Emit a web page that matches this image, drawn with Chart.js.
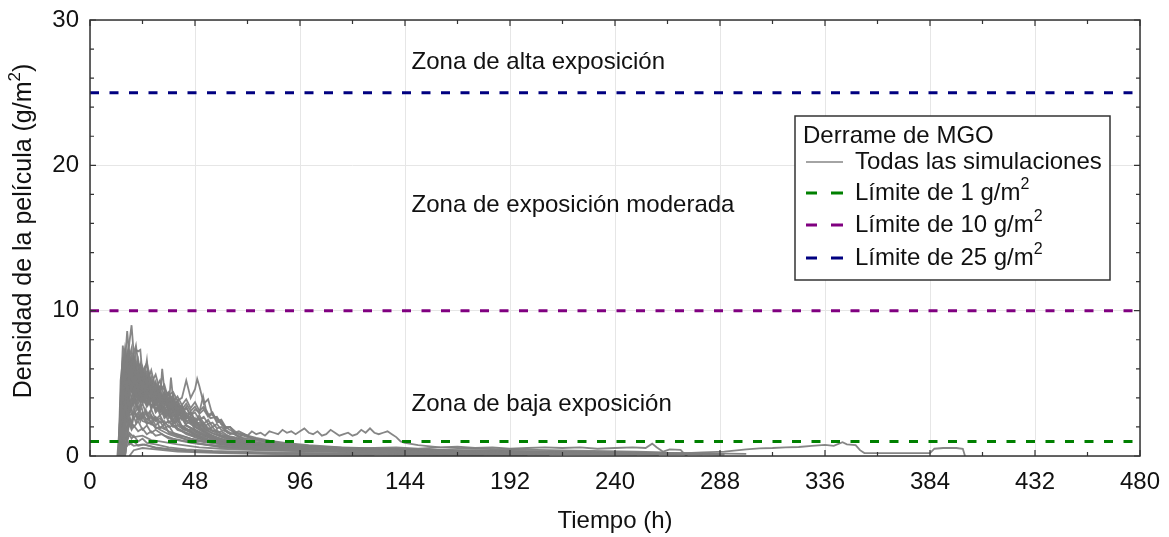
<!DOCTYPE html>
<html>
<head>
<meta charset="utf-8">
<script src="https://cdn.jsdelivr.net/npm/chart.js@4.4.1/dist/chart.umd.min.js"></script>
<style>
html,body{margin:0;padding:0;background:#fff;}
#wrap{width:1169px;height:537px;}
</style>
</head>
<body>
<div id="wrap"><canvas id="c" width="1169" height="537"></canvas></div>
<script>
// ---- Axis ticks ----
const xTicks = [0, 48, 96, 144, 192, 240, 288, 336, 384, 432, 480];
const yTicks = [0, 10, 20, 30];

// ---- Exposure limits (g/m2) ----
const limitValues = [1, 10, 25];
const limitLabels = ['Límite de 1 g/m', 'Límite de 10 g/m', 'Límite de 25 g/m'];
const zoneLabels = ['Zona de alta exposición', 'Zona de exposición moderada', 'Zona de baja exposición'];

// ---- Simulations: [hour, film density g/m2] ----
const sim01 = [[13,0],[14,2.5],[15,5.5],[16,7.0],[17,6.2],[18,7.8],[19,9.0],[20,7.0],[21,7.6],[22,6.4],[24,5.8],[26,6.4],[28,5.0],[30,5.6],[32,4.5],[34,4.9],[36,3.8],[38,4.2],[40,3.2],[44,2.8],[48,2.2],[52,1.8],[56,1.4],[60,1.1],[66,0.9],[72,0.7],[84,0.5],[96,0.4],[120,0.3],[144,0.25],[168,0.2],[192,0.15]];
const sim02 = [[13.5,0],[15,4.0],[16,6.5],[17,8.6],[18,6.8],[19,7.4],[20,6.0],[21,7.3],[22,7.2],[23,7.3],[24,5.6],[26,5.0],[28,5.9],[30,4.6],[32,5.2],[34,4.0],[36,4.4],[38,3.4],[40,3.8],[42,3.0],[46,2.6],[50,2.0],[54,1.5],[58,1.2],[64,0.9],[72,0.7],[84,0.55],[96,0.45],[120,0.35],[144,0.3],[168,0.25],[200,0.2],[240,0.15]];
const sim03 = [[14,0],[15,3.0],[16,5.5],[17,6.8],[18,5.2],[19,6.4],[20,5.0],[22,5.8],[24,4.6],[26,6.6],[27,5.0],[28,4.2],[30,5.1],[32,3.8],[33,6.0],[34,4.5],[36,3.4],[37,5.4],[38,3.9],[40,2.8],[42,3.2],[44,2.4],[48,2.0],[52,1.6],[56,1.2],[60,0.9],[68,0.7],[76,0.55],[88,0.45],[100,0.38],[120,0.3],[150,0.22],[180,0.18],[220,0.14],[260,0.1]];
const sim04 = [[14.5,0],[16,3.5],[17,5.0],[18,4.2],[20,5.5],[22,4.6],[24,5.2],[26,4.4],[28,5.0],[30,4.2],[32,4.8],[34,4.6],[36,4.2],[38,4.4],[40,3.8],[42,4.0],[44,5.2],[45,4.6],[46,4.0],[48,4.6],[49,5.3],[50,4.8],[51,4.2],[52,3.6],[54,3.9],[56,2.8],[58,2.6],[60,2.2],[62,1.8],[64,1.6],[66,1.5],[68,1.3],[72,1.1],[76,0.9],[84,0.7],[96,0.5],[120,0.4],[144,0.32],[168,0.28],[192,0.22],[216,0.18],[240,0.14]];
const sim05 = [[15,0],[16,2.2],[17,4.0],[18,3.5],[20,4.6],[22,3.8],[24,4.8],[26,4.0],[28,4.6],[30,3.6],[32,4.2],[34,3.4],[36,3.8],[38,3.2],[40,3.6],[42,3.0],[44,3.4],[46,2.8],[48,3.2],[50,3.0],[51.7,4.1],[53,3.2],[55,2.6],[58,2.7],[60,2.2],[63,1.9],[66,1.6],[70,1.4],[74,1.2],[80,1.0],[88,0.8],[96,0.6],[110,0.5],[130,0.42],[150,0.36],[180,0.3],[210,0.25],[240,0.2],[270,0.15],[290,0.1]];
const sim06 = [[13,0],[14,1.5],[15,3.8],[16,5.0],[17,4.2],[18,5.6],[19,4.6],[20,5.2],[21,4.2],[22,4.8],[24,3.8],[26,4.4],[28,3.4],[30,3.9],[32,3.0],[34,3.4],[36,2.6],[38,2.9],[40,2.2],[44,1.9],[48,1.5],[52,1.3],[56,1.0],[62,0.8],[70,0.6],[80,0.45],[96,0.35],[120,0.28],[150,0.2],[190,0.15]];
const sim07 = [[13.5,0],[15,2.0],[16,4.6],[17,3.8],[18,6.0],[19,5.0],[20,6.5],[21,5.2],[22,5.8],[23,4.6],[24,5.3],[26,4.0],[28,4.7],[30,3.6],[32,4.0],[34,3.0],[36,3.3],[38,2.5],[40,2.8],[42,2.0],[46,1.7],[50,1.4],[54,1.1],[60,0.85],[66,0.7],[76,0.55],[90,0.42],[110,0.35],[140,0.28],[170,0.22],[210,0.16]];
const sim08 = [[14,0],[15,1.6],[16,3.0],[17,2.4],[18,3.6],[20,2.8],[22,3.4],[24,2.6],[26,3.0],[28,2.2],[30,2.6],[32,1.9],[34,2.2],[36,1.6],[40,1.4],[44,1.1],[48,0.9],[54,0.75],[60,0.6],[70,0.5],[84,0.4],[100,0.32],[130,0.26],[160,0.2],[200,0.15],[250,0.1]];
const sim09 = [[12.5,0],[14,3.0],[15,6.0],[16,4.8],[17,7.0],[18,5.6],[19,6.2],[20,4.8],[21,5.4],[22,4.2],[24,4.9],[26,3.6],[28,4.3],[30,3.2],[32,3.6],[34,2.8],[36,3.1],[38,2.4],[40,2.6],[42,1.9],[46,1.6],[50,1.3],[56,1.0],[62,0.8],[70,0.65],[82,0.5],[96,0.4],[120,0.32],[150,0.25],[180,0.2],[230,0.14]];
const sim10 = [[15,0],[16,1.8],[17,3.2],[18,4.4],[20,3.6],[22,4.8],[24,3.8],[26,5.0],[28,4.0],[30,4.6],[32,3.6],[34,4.2],[36,3.3],[38,3.8],[40,3.0],[42,3.4],[44,2.6],[46,3.0],[48,2.3],[50,2.6],[52,2.0],[54,2.2],[56,1.7],[58,1.8],[60,1.4],[64,1.3],[68,1.1],[74,0.95],[80,0.8],[90,0.65],[100,0.55],[120,0.45],[144,0.38],[168,0.3],[200,0.24],[240,0.18],[280,0.12]];
const sim11 = [[14,0],[15,2.5],[16,4.2],[17,3.6],[18,5.0],[20,4.0],[22,4.6],[24,3.6],[26,4.2],[28,3.4],[30,3.8],[32,3.0],[34,3.4],[36,2.8],[38,3.2],[40,2.6],[42,3.4],[44,2.6],[46,3.0],[48,2.4],[50,2.8],[52,2.2],[54,2.5],[56,2.0],[58,2.2],[60,1.8],[62,1.7],[64,1.5],[66,1.6],[68,1.3],[70,1.5],[72,1.4],[74,1.7],[76,1.5],[78,1.6],[80,1.4],[82,1.7],[84,1.6],[86,1.5],[88,1.8],[90,1.6],[92,1.7],[94,1.5],[96,1.7],[98,1.9],[100,1.6],[102,1.5],[104,1.7],[106,1.4],[108,1.5],[110,1.8],[112,1.6],[114,1.4],[116,1.5],[118,1.6],[120,1.4],[122,1.5],[124,1.8],[126,1.6],[128,1.9],[130,1.6],[132,1.5],[134,1.6],[136,1.7],[138,1.5],[140,1.3],[142,1.0],[144,0.9],[150,0.75],[160,0.6],[176,0.5],[192,0.45],[210,0.4],[230,0.35],[250,0.3],[262,0.25]];
const sim12 = [[15,0],[16,2.0],[18,3.2],[20,2.6],[22,3.0],[24,2.4],[28,2.2],[32,1.8],[36,1.5],[40,1.3],[46,1.1],[52,0.95],[60,0.85],[70,0.75],[80,0.7],[90,0.6],[100,0.55],[110,0.6],[120,0.5],[130,0.55],[140,0.6],[150,0.5],[160,0.6],[168,0.65],[176,0.55],[184,0.6],[192,0.5],[200,0.55],[208,0.6],[216,0.55],[224,0.6],[232,0.5],[240,0.55],[248,0.6],[254,0.55],[257,0.85],[259,0.6],[262,0.3],[265,0.45],[270,0.42],[272,0.1],[273,0]];
const sim13 = [[16,0],[17,1.2],[18,1.6],[20,1.3],[24,1.4],[28,1.1],[32,1.0],[40,0.8],[50,0.6],[60,0.5],[72,0.42],[84,0.38],[96,0.35],[120,0.3],[144,0.28],[168,0.25],[192,0.22],[216,0.2],[240,0.2],[260,0.18],[270,0.18],[280,0.25],[290,0.3],[300,0.45],[306,0.53],[312,0.55],[318,0.6],[324,0.62],[330,0.7],[336,0.76],[340,0.7],[344,0.95],[346,0.8],[350,0.75],[352,0.4],[354,0.2],[370,0.2],[384,0.2],[386,0.5],[390,0.55],[396,0.55],[399,0.5],[400,0]];
const sim14 = [[14,0],[15,0.8],[16,1.3],[17,1.0],[18,1.5],[19,1.2],[20,1.4],[22,1.0],[24,1.2],[26,0.9],[30,0.8],[36,0.6],[44,0.45],[56,0.35],[72,0.28],[96,0.22],[130,0.18],[170,0.12],[210,0.08]];
const sim15 = [[15,0],[16,0.5],[18,0.9],[20,0.7],[24,0.8],[30,0.6],[40,0.4],[50,0.3],[70,0.22],[100,0.15],[140,0.1],[180,0.05]];
const sim16 = [[18,0],[20,0.4],[24,0.55],[30,0.45],[40,0.3],[60,0.2],[90,0.12],[130,0.08]];
const sim17 = [[13,0],[14,4.0],[15,7.6],[16,6.0],[17,6.8],[18,5.4],[19,6.0],[20,4.6],[22,5.2],[24,4.0],[26,4.5],[28,3.4],[30,3.8],[32,2.8],[34,3.1],[36,2.3],[38,2.5],[40,1.9],[44,1.6],[48,1.3],[54,1.0],[60,0.8],[70,0.62],[84,0.5],[100,0.4],[130,0.3],[160,0.24],[200,0.18]];
const sim18 = [[14,0],[15,2.8],[16,4.0],[17,5.6],[18,4.6],[19,5.3],[20,4.1],[21,4.8],[22,3.9],[24,4.5],[26,3.5],[28,4.1],[30,3.1],[32,3.5],[34,2.6],[36,2.9],[38,2.2],[40,2.4],[44,1.8],[48,1.5],[52,1.2],[58,0.95],[66,0.75],[76,0.6],[90,0.48],[110,0.38],[140,0.3],[170,0.24],[200,0.2],[240,0.15]];
const sim19 = [[13,0],[14,2.0],[15,3.6],[16,3.0],[17,4.4],[18,3.6],[20,4.0],[22,3.2],[24,3.6],[26,2.8],[28,3.2],[30,2.5],[32,2.8],[34,2.2],[36,2.4],[40,1.9],[44,1.5],[50,1.2],[56,0.95],[64,0.75],[74,0.6],[88,0.48],[104,0.4],[130,0.32],[160,0.26],[200,0.2]];
const sim20 = [[14.5,0],[16,3.0],[17,4.8],[18,4.0],[19,5.8],[20,4.6],[21,5.2],[22,4.4],[23,6.2],[24,5.0],[25,4.4],[26,5.4],[27,4.3],[28,4.9],[30,3.9],[31,4.6],[32,3.6],[34,4.0],[36,3.2],[38,3.6],[40,2.7],[42,3.0],[44,2.2],[46,2.4],[48,1.8],[52,1.5],[56,1.2],[62,0.95],[70,0.75],[80,0.6],[96,0.48],[120,0.38],[150,0.3],[180,0.24],[220,0.18]];
const sim21 = [[14,0],[15,1.2],[16,2.2],[17,1.8],[18,2.6],[20,2.0],[22,2.4],[24,1.8],[26,2.1],[28,1.6],[30,1.8],[34,1.4],[38,1.2],[44,1.0],[50,0.85],[60,0.7],[72,0.55],[90,0.45],[110,0.38],[140,0.3],[180,0.24],[220,0.18],[260,0.12]];
const sim22 = [[15,0],[16,2.4],[17,3.6],[18,3.0],[20,3.8],[22,3.2],[24,4.0],[26,3.4],[28,3.9],[30,3.2],[32,3.6],[34,2.9],[36,3.3],[38,2.7],[40,3.1],[42,2.5],[44,2.9],[46,2.3],[48,2.6],[50,2.0],[52,2.3],[54,1.8],[56,2.0],[58,1.6],[60,1.7],[64,1.3],[68,1.2],[72,1.0],[80,0.85],[90,0.7],[100,0.6],[120,0.5],[144,0.42],[170,0.35],[200,0.3],[230,0.25],[260,0.2],[290,0.12]];
const sim23 = [[13.5,0],[15,4.4],[16,5.8],[17,5.0],[18,6.6],[19,5.4],[20,6.0],[21,4.8],[22,5.6],[24,4.4],[26,5.0],[28,3.9],[30,4.4],[32,3.4],[34,3.9],[36,3.0],[38,3.4],[40,2.5],[42,2.8],[44,2.1],[48,1.8],[52,1.4],[56,1.15],[62,0.9],[70,0.7],[80,0.56],[96,0.45],[120,0.36],[150,0.28],[180,0.22],[220,0.16],[260,0.12]];
const sim24 = [[16,0],[17,1.5],[18,2.8],[19,2.2],[20,3.2],[22,2.6],[24,3.0],[26,2.3],[28,2.7],[30,2.1],[32,2.4],[34,1.9],[36,2.1],[38,1.6],[42,1.4],[46,1.2],[52,1.0],[58,0.85],[66,0.7],[78,0.56],[92,0.46],[110,0.38],[130,0.32],[160,0.26],[190,0.2],[230,0.15]];
const sim25 = [[13,0],[14,3.5],[15,6.8],[16,5.6],[17,7.2],[18,6.0],[19,6.8],[20,5.8],[21,6.6],[22,5.4],[23,6.2],[24,5.2],[25,5.9],[26,4.9],[27,5.6],[28,4.6],[29,5.2],[30,4.3],[31,4.8],[32,4.0],[34,4.4],[36,3.6],[38,3.9],[40,3.1],[42,3.3],[44,2.6],[46,2.7],[48,2.1],[52,1.7],[56,1.35],[62,1.05],[70,0.8],[80,0.62],[96,0.48],[120,0.38],[150,0.3],[190,0.22],[230,0.16]];
const sim26 = [[14,0],[15,5.0],[16,6.2],[17,5.3],[18,6.9],[19,6.1],[20,6.9],[21,6.0],[22,6.6],[23,5.5],[24,6.1],[25,5.3],[26,5.8],[27,4.9],[28,5.4],[29,4.6],[30,5.0],[31,4.3],[32,4.7],[33,4.0],[34,4.3],[36,3.7],[38,4.0],[40,3.3],[42,3.5],[44,2.9],[46,3.0],[48,2.5],[50,2.5],[52,2.0],[56,1.7],[60,1.4],[66,1.15],[74,0.9],[84,0.72],[96,0.58],[120,0.45],[150,0.35],[190,0.27],[240,0.2],[280,0.13]];
const sim27 = [[13,0],[14,2.6],[15,4.8],[16,4.0],[17,5.2],[18,4.4],[19,5.0],[20,4.2],[21,4.7],[22,4.0],[23,4.5],[24,3.7],[25,4.2],[26,3.5],[27,3.9],[28,3.2],[29,3.6],[30,3.0],[32,3.3],[34,2.7],[36,2.9],[38,2.3],[40,2.5],[42,2.0],[44,2.1],[48,1.7],[52,1.4],[58,1.1],[66,0.85],[76,0.68],[90,0.54],[110,0.43],[140,0.34],[180,0.26],[220,0.2]];
const sim28 = [[14.5,0],[15.5,3.6],[16.5,5.8],[17.5,4.9],[18.5,6.3],[19.5,5.5],[20.5,6.1],[21.5,5.2],[22.5,5.7],[23.5,4.9],[24.5,5.4],[25.5,4.6],[26.5,5.1],[27.5,4.4],[28.5,4.8],[29.5,4.1],[30.5,4.5],[32,3.8],[33.5,4.2],[35,3.5],[36.5,3.8],[38,3.2],[39.5,3.5],[41,2.9],[42.5,3.1],[44,2.6],[46,2.7],[48,2.2],[50,2.3],[53,1.8],[57,1.5],[62,1.2],[70,0.95],[80,0.75],[92,0.6],[110,0.48],[135,0.38],[165,0.3],[200,0.24],[240,0.18]];
const sim29 = [[13.5,0],[14.5,2.0],[15.5,3.4],[16.5,2.9],[17.5,3.9],[18.5,3.3],[19.5,3.8],[20.5,3.2],[21.5,3.6],[22.5,3.0],[23.5,3.4],[24.5,2.8],[25.5,3.2],[26.5,2.6],[27.5,3.0],[28.5,2.5],[30,2.7],[32,2.3],[34,2.4],[36,2.0],[38,2.1],[40,1.8],[44,1.6],[48,1.4],[54,1.15],[60,0.95],[70,0.75],[82,0.6],[96,0.5],[120,0.4],[150,0.32],[190,0.25],[240,0.18]];
const sim30 = [[15,0],[16,3.2],[17,4.6],[18,5.4],[19,4.8],[20,5.6],[21,4.9],[22,5.3],[23,4.7],[24,5.6],[25,4.8],[26,5.2],[27,4.5],[28,4.9],[29,4.2],[30,4.6],[31,4.0],[32,4.4],[33,3.8],[34,4.2],[35,3.6],[36,4.0],[37,3.4],[38,3.8],[39,3.2],[40,3.5],[42,3.0],[44,3.3],[46,2.8],[48,3.0],[50,2.5],[52,2.7],[54,2.2],[56,2.3],[58,1.9],[60,2.0],[63,1.6],[66,1.5],[70,1.25],[76,1.05],[84,0.85],[96,0.68],[112,0.55],[135,0.45],[165,0.36],[200,0.28],[240,0.22],[280,0.15]];
const sim31 = [[13,0],[14,1.8],[15,3.0],[16,2.5],[17,3.3],[18,2.8],[20,3.0],[22,2.5],[24,2.7],[26,2.2],[28,2.4],[30,1.9],[32,2.0],[36,1.7],[40,1.45],[46,1.2],[52,1.0],[60,0.82],[70,0.66],[84,0.52],[100,0.42],[125,0.34],[160,0.26],[200,0.2]];
const sim32 = [[14,0],[15,6.2],[16,7.4],[17,6.4],[18,7.1],[19,6.2],[20,6.8],[21,5.8],[22,6.3],[23,5.4],[24,5.8],[25,5.0],[26,5.4],[27,4.6],[28,5.0],[29,4.3],[30,4.6],[31,3.9],[32,4.2],[34,3.6],[36,3.8],[38,3.1],[40,3.3],[42,2.7],[44,2.8],[46,2.3],[48,2.4],[52,1.9],[56,1.55],[62,1.25],[70,0.98],[80,0.78],[94,0.62],[112,0.5],[136,0.4],[166,0.32],[200,0.25],[250,0.18]];
const sim33 = [[15,0],[16,2.8],[17,4.2],[18,3.6],[20,4.5],[22,3.9],[24,4.6],[26,4.0],[28,4.5],[30,3.9],[32,4.4],[34,3.8],[36,4.3],[38,3.7],[40,4.1],[42,3.5],[44,3.9],[46,3.3],[48,3.7],[50,3.1],[52,3.4],[54,2.8],[56,3.0],[58,2.4],[60,2.5],[62,2.0],[64,2.0],[67,1.6],[70,1.5],[74,1.25],[80,1.05],[88,0.88],[98,0.72],[112,0.6],[130,0.5],[155,0.42],[185,0.34],[220,0.27],[260,0.2]];
const sim34 = [[16,0],[17,2.2],[18,3.8],[19,3.2],[20,4.2],[21,3.6],[22,4.3],[23,3.7],[24,4.4],[25,3.8],[26,4.2],[27,3.6],[28,4.0],[30,3.5],[32,3.8],[34,3.2],[36,3.5],[38,3.0],[40,3.2],[42,2.7],[44,2.9],[46,2.4],[48,2.5],[50,2.1],[52,2.2],[55,1.8],[58,1.7],[62,1.4],[66,1.3],[70,1.1],[78,0.9],[88,0.74],[100,0.6],[120,0.48],[145,0.4],[175,0.32],[210,0.25],[250,0.19]];
const sim35 = [[14,0],[15,1.4],[16,2.0],[17,1.7],[18,2.2],[19,1.8],[20,2.1],[22,1.7],[24,1.9],[26,1.5],[28,1.7],[30,1.4],[33,1.5],[36,1.2],[40,1.1],[46,0.9],[54,0.75],[64,0.6],[76,0.5],[92,0.4],[112,0.33],[140,0.27],[175,0.21],[215,0.16],[260,0.11]];
const sim36 = [[13,0],[14,5.2],[15,6.6],[16,5.9],[17,6.5],[18,5.6],[19,6.3],[20,5.4],[21,5.9],[22,5.0],[23,5.5],[24,4.7],[25,5.1],[26,4.4],[27,4.8],[28,4.1],[29,4.4],[30,3.8],[31,4.1],[32,3.5],[34,3.8],[36,3.2],[38,3.4],[40,2.8],[42,3.0],[44,2.4],[46,2.5],[48,2.0],[52,1.65],[56,1.4],[62,1.1],[70,0.88],[80,0.7],[95,0.55],[115,0.44],[140,0.36],[170,0.29],[210,0.22]];
const sim37 = [[15.5,0],[16.5,2.6],[17.5,3.8],[18.5,3.3],[20,4.1],[22,3.6],[24,4.2],[26,3.7],[28,4.2],[30,3.6],[32,4.0],[34,3.5],[36,3.9],[38,3.4],[40,3.8],[42,3.2],[44,3.6],[46,3.1],[48,3.4],[50,2.9],[52,3.2],[54,2.7],[56,2.9],[58,2.3],[60,2.4],[62,1.9],[64,2.0],[66,1.6],[68,1.7],[72,1.4],[76,1.25],[82,1.05],[90,0.88],[100,0.74],[115,0.6],[135,0.5],[160,0.42],[190,0.35],[225,0.28],[265,0.21],[300,0.14]];
const sim38 = [[14,0],[15,3.9],[16,4.8],[17,4.2],[18,5.1],[19,4.5],[20,5.0],[21,4.3],[22,4.8],[23,4.1],[24,4.5],[25,3.9],[26,4.3],[27,3.7],[28,4.0],[29,3.4],[30,3.7],[32,3.2],[34,3.4],[36,2.8],[38,3.0],[40,2.5],[42,2.6],[44,2.1],[48,1.8],[52,1.5],[58,1.2],[64,1.0],[72,0.8],[84,0.64],[100,0.52],[122,0.42],[150,0.33],[185,0.26],[230,0.19]];
const sim39 = [[14.5,0],[15.5,0.6],[17,1.1],[18,0.8],[20,1.0],[22,0.7],[25,0.8],[30,0.55],[36,0.45],[46,0.35],[60,0.27],[80,0.2],[110,0.14],[150,0.1],[200,0.06]];
const sim40 = [[16,0],[18,2.4],[19,2.0],[20,2.7],[21,2.3],[22,2.8],[23,2.4],[24,2.9],[26,2.5],[28,2.8],[30,2.4],[32,2.6],[34,2.2],[36,2.4],[38,2.0],[40,2.1],[43,1.8],[46,1.8],[50,1.5],[55,1.35],[60,1.15],[66,1.0],[74,0.85],[84,0.7],[96,0.58],[112,0.48],[132,0.4],[158,0.33],[190,0.27],[230,0.21],[270,0.15]];

const simulations = [sim01,sim02,sim03,sim04,sim05,sim06,sim07,sim08,sim09,sim10,sim11,sim12,sim13,sim14,sim15,sim16,sim17,sim18,sim19,sim20,
  sim21,sim22,sim23,sim24,sim25,sim26,sim27,sim28,sim29,sim30,sim31,sim32,sim33,sim34,sim35,sim36,sim37,sim38,sim39,sim40];

// ---- Styles ----
const FONT = '"Liberation Sans", Arial, sans-serif';
const GRAY = 'rgba(128,128,128,0.95)';
const limitColors = ['#008000', '#800080', '#000080'];
const DASH = [9, 10.5];

const datasets = [];
limitValues.forEach((v, i) => {
  datasets.push({
    label: limitLabels[i] + '2',
    data: [{x: xTicks[0], y: v}, {x: xTicks[xTicks.length - 1], y: v}],
    borderColor: limitColors[i], borderWidth: 3, borderDash: DASH,
    pointRadius: 0, fill: false, order: 0
  });
});
simulations.forEach((s, i) => {
  datasets.push({
    label: 'sim' + (i + 1),
    data: s.map(p => ({x: p[0], y: p[1]})),
    borderColor: GRAY, borderWidth: 1.8, pointRadius: 0,
    tension: 0, fill: false, order: 1
  });
});

function drawSup(ctx, x, y, base, sup, size) {
  ctx.textAlign = 'left';
  ctx.textBaseline = 'middle';
  ctx.font = size + 'px ' + FONT;
  const w1 = ctx.measureText(base).width;
  ctx.fillText(base, x, y);
  ctx.font = Math.round(size * 0.68) + 'px ' + FONT;
  ctx.fillText(sup, x + w1, y - size * 0.36);
}

const decor = {
  id: 'decor',
  afterDatasetsDraw(chart) {
    const ctx = chart.ctx, a = chart.chartArea;
    const xs = chart.scales.x, ys = chart.scales.y;
    ctx.save();
    // frame
    ctx.strokeStyle = '#333';
    ctx.lineWidth = 1.5;
    ctx.strokeRect(a.left, a.top, a.right - a.left, a.bottom - a.top);
    // inner ticks
    ctx.lineWidth = 1.2;
    ctx.beginPath();
    for (let v = ys.min; v <= ys.max; v += 2) {
      const y = ys.getPixelForValue(v);
      const L = (v % 10 === 0) ? 6 : 4;
      ctx.moveTo(a.left, y); ctx.lineTo(a.left + L, y);
      ctx.moveTo(a.right, y); ctx.lineTo(a.right - L, y);
    }
    for (let v = xs.min; v <= xs.max; v += 24) {
      const x = xs.getPixelForValue(v);
      const L = (v % 48 === 0) ? 6 : 4;
      ctx.moveTo(x, a.bottom); ctx.lineTo(x, a.bottom - L);
      ctx.moveTo(x, a.top); ctx.lineTo(x, a.top + L);
    }
    ctx.stroke();

    // zone labels
    ctx.fillStyle = '#111';
    ctx.font = '24px ' + FONT;
    ctx.textAlign = 'left';
    ctx.textBaseline = 'middle';
    const zx = xs.getPixelForValue(147);
    ctx.fillText(zoneLabels[0], zx, ys.getPixelForValue(27.1));
    ctx.fillText(zoneLabels[1], zx, ys.getPixelForValue(17.27));
    ctx.fillText(zoneLabels[2], zx, ys.getPixelForValue(3.58));

    // legend box
    const bx = 795, by = 116, bw = 315, bh = 164;
    ctx.fillStyle = '#fff';
    ctx.fillRect(bx, by, bw, bh);
    ctx.strokeStyle = '#333';
    ctx.lineWidth = 1.5;
    ctx.strokeRect(bx, by, bw, bh);
    ctx.fillStyle = '#111';
    ctx.font = '24px ' + FONT;
    ctx.textBaseline = 'middle';
    ctx.textAlign = 'left';
    ctx.fillText('Derrame de MGO', bx + 8, by + 20);
    const rows = [by + 46, by + 77, by + 109, by + 142];
    ctx.strokeStyle = GRAY; ctx.lineWidth = 1.3; ctx.setLineDash([]);
    ctx.beginPath(); ctx.moveTo(bx + 11, rows[0]); ctx.lineTo(bx + 48, rows[0]); ctx.stroke();
    ctx.fillStyle = '#111';
    ctx.font = '24px ' + FONT;
    ctx.fillText('Todas las simulaciones', bx + 60, rows[0]);
    for (let i = 0; i < 3; i++) {
      const y = rows[i + 1];
      ctx.strokeStyle = limitColors[i]; ctx.lineWidth = 3;
      ctx.beginPath();
      ctx.moveTo(bx + 11, y); ctx.lineTo(bx + 22, y);
      ctx.moveTo(bx + 36, y); ctx.lineTo(bx + 48, y);
      ctx.stroke();
      ctx.fillStyle = '#111';
      drawSup(ctx, bx + 60, y, limitLabels[i], '2', 24);
    }

    // y axis title (rotated)
    ctx.save();
    ctx.translate(24, 231);
    ctx.rotate(-Math.PI / 2);
    ctx.fillStyle = '#111';
    const size = 25;
    ctx.font = size + 'px ' + FONT;
    const base = 'Densidad de la película (g/m';
    const w1 = ctx.measureText(base).width;
    ctx.font = Math.round(size * 0.68) + 'px ' + FONT;
    const w2 = ctx.measureText('2').width;
    ctx.font = size + 'px ' + FONT;
    const w3 = ctx.measureText(')').width;
    const x0 = -(w1 + w2 + w3) / 2;
    ctx.textAlign = 'left'; ctx.textBaseline = 'middle';
    ctx.fillText(base, x0, 0);
    ctx.font = Math.round(size * 0.68) + 'px ' + FONT;
    ctx.fillText('2', x0 + w1, -size * 0.36);
    ctx.font = size + 'px ' + FONT;
    ctx.fillText(')', x0 + w1 + w2, 0);
    ctx.restore();

    ctx.restore();
  }
};

new Chart(document.getElementById('c'), {
  type: 'line',
  data: { datasets },
  options: {
    responsive: false,
    animation: false,
    events: [],
    layout: { padding: { top: 20, right: 29, left: 0, bottom: 0 } },
    plugins: { legend: { display: false }, tooltip: { enabled: false } },
    scales: {
      x: {
        type: 'linear', min: 0, max: 480,
        afterBuildTicks: s => { s.ticks = xTicks.map(v => ({ value: v })); },
        afterFit: s => { s.height = 81; s.paddingLeft = 0; s.paddingRight = 0; },
        ticks: { color: '#111', font: { family: FONT, size: 24 }, padding: 12, maxRotation: 0, autoSkip: false },
        grid: { color: '#e6e6e6', drawTicks: false },
        border: { display: false },
        title: { display: true, text: 'Tiempo (h)', color: '#111', font: { family: FONT, size: 24 }, padding: { top: 0, bottom: 1 } }
      },
      y: {
        type: 'linear', min: 0, max: 30,
        afterBuildTicks: s => { s.ticks = yTicks.map(v => ({ value: v })); },
        afterFit: s => { s.width = 90; s.paddingTop = 0; s.paddingBottom = 0; },
        ticks: { color: '#111', font: { family: FONT, size: 24 }, padding: 11 },
        grid: { color: '#e6e6e6', drawTicks: false },
        border: { display: false }
      }
    }
  },
  plugins: [decor]
});
</script>
</body>
</html>
